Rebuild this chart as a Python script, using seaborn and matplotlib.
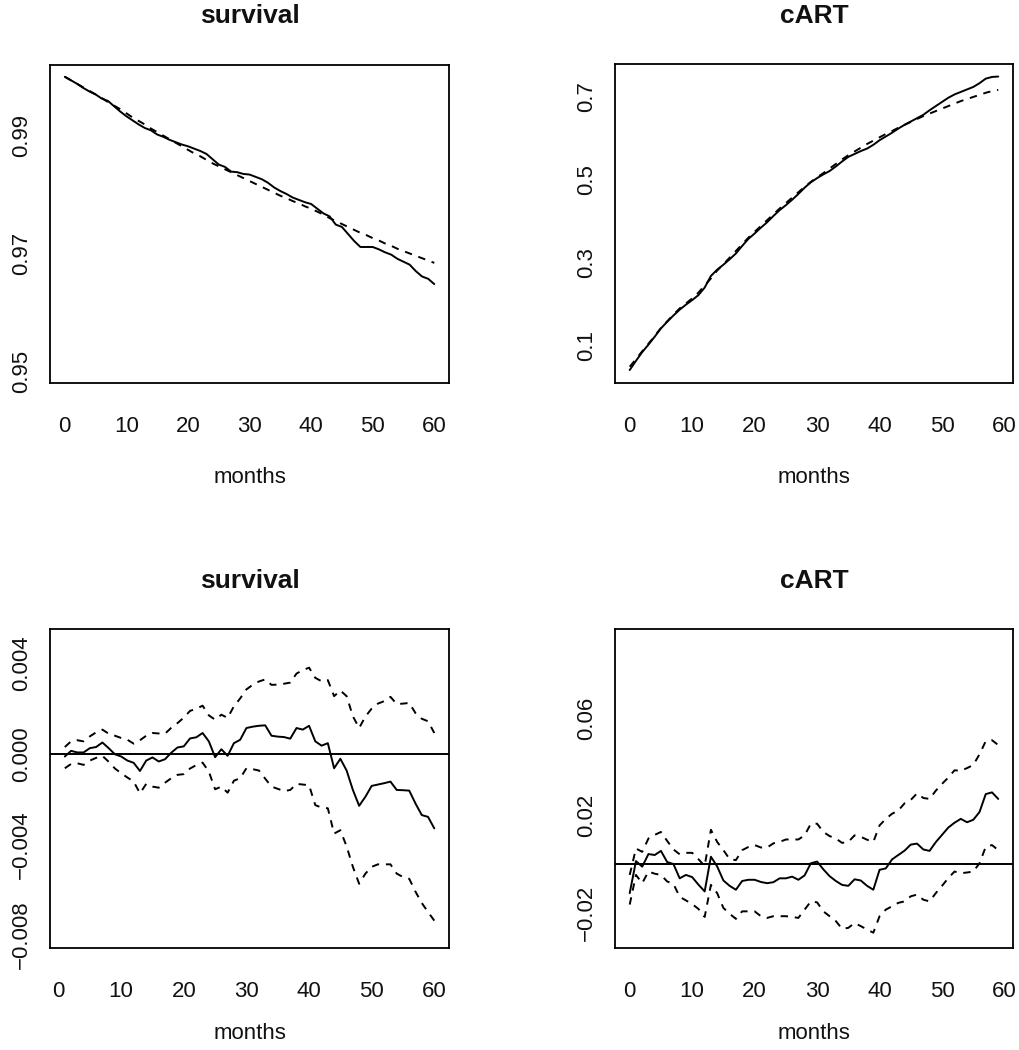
# survival / cART panels: fitted vs observed (top), differences with bands (bottom)
import matplotlib
matplotlib.use("Agg")
import matplotlib.pyplot as plt
import seaborn as sns

# ---------- data ----------
months_surv = list(range(0, 61))
months_cart = list(range(0, 60))
months_diff_surv = list(range(1, 61))
months_diff_cart = list(range(0, 60))

surv_obs = [1.0000, 0.9994, 0.9988, 0.9981, 0.9975, 0.9970, 0.9963, 0.9959, 0.9950, 0.9941,
            0.9933, 0.9926, 0.9919, 0.9913, 0.9909, 0.9902, 0.9898, 0.9893, 0.9889, 0.9885,
            0.9882, 0.9878, 0.9874, 0.9869, 0.9860, 0.9851, 0.9847, 0.9839, 0.9838, 0.9835,
            0.9834, 0.9830, 0.9826, 0.9820, 0.9812, 0.9806, 0.9801, 0.9795, 0.9791, 0.9787,
            0.9784, 0.9776, 0.9768, 0.9763, 0.9749, 0.9745, 0.9733, 0.9721, 0.9711, 0.9711,
            0.9711, 0.9707, 0.9702, 0.9698, 0.9691, 0.9686, 0.9681, 0.9670, 0.9661, 0.9657,
            0.9648]
surv_fit = [1.0000, 0.9994, 0.9988, 0.9982, 0.9976, 0.9970, 0.9964, 0.9957, 0.9951, 0.9945,
            0.9938, 0.9931, 0.9925, 0.9919, 0.9912, 0.9906, 0.9900, 0.9894, 0.9888, 0.9882,
            0.9876, 0.9870, 0.9865, 0.9859, 0.9853, 0.9848, 0.9843, 0.9838, 0.9833, 0.9828,
            0.9823, 0.9818, 0.9813, 0.9808, 0.9803, 0.9798, 0.9794, 0.9789, 0.9785, 0.9780,
            0.9776, 0.9771, 0.9766, 0.9760, 0.9755, 0.9750, 0.9745, 0.9740, 0.9735, 0.9731,
            0.9726, 0.9722, 0.9717, 0.9713, 0.9708, 0.9704, 0.9700, 0.9696, 0.9692, 0.9688,
            0.9684]

cart_obs = [0.042, 0.064, 0.085, 0.103, 0.122, 0.142, 0.158, 0.173, 0.187, 0.199,
            0.210, 0.222, 0.240, 0.268, 0.283, 0.295, 0.308, 0.322, 0.340, 0.357,
            0.370, 0.384, 0.397, 0.412, 0.426, 0.438, 0.451, 0.465, 0.480, 0.493,
            0.503, 0.512, 0.520, 0.531, 0.543, 0.554, 0.561, 0.568, 0.574, 0.583,
            0.594, 0.603, 0.612, 0.622, 0.631, 0.639, 0.647, 0.655, 0.666, 0.676,
            0.686, 0.696, 0.704, 0.710, 0.716, 0.722, 0.731, 0.742, 0.746, 0.747]
cart_fit = [0.050, 0.068, 0.087, 0.105, 0.124, 0.143, 0.159, 0.175, 0.190, 0.202,
            0.214, 0.228, 0.245, 0.262, 0.281, 0.296, 0.312, 0.328, 0.344, 0.360,
            0.374, 0.388, 0.402, 0.416, 0.430, 0.443, 0.456, 0.469, 0.482, 0.494,
            0.505, 0.515, 0.526, 0.537, 0.548, 0.558, 0.567, 0.576, 0.585, 0.593,
            0.601, 0.609, 0.616, 0.624, 0.631, 0.638, 0.645, 0.652, 0.658, 0.664,
            0.670, 0.676, 0.682, 0.688, 0.693, 0.698, 0.703, 0.708, 0.712, 0.715]

surv_diff = [-0.00012, 0.00013, 0.00006, 0.00006, 0.00025, 0.00030, 0.00050, 0.00025, -0.00002, -0.00012,
             -0.00030, -0.00040, -0.00076, -0.00030, -0.00016, -0.00034, -0.00024, 0.00005, 0.00028, 0.00033,
             0.00068, 0.00073, 0.00092, 0.00055, -0.00015, 0.00020, -0.00009, 0.00047, 0.00062, 0.00114,
             0.00120, 0.00124, 0.00126, 0.00080, 0.00076, 0.00074, 0.00067, 0.00114, 0.00107, 0.00124,
             0.00055, 0.00036, 0.00047, -0.00064, -0.00022, -0.00074, -0.00160, -0.00230, -0.00190, -0.00142,
             -0.00136, -0.00130, -0.00123, -0.00160, -0.00161, -0.00163, -0.00220, -0.00271, -0.00279, -0.00330]
surv_upper = [0.00030, 0.00055, 0.00060, 0.00055, 0.00077, 0.00095, 0.00107, 0.00089, 0.00080, 0.00070,
              0.00062, 0.00045, 0.00060, 0.00080, 0.00092, 0.00090, 0.00089, 0.00115, 0.00136, 0.00160,
              0.00190, 0.00199, 0.00213, 0.00170, 0.00151, 0.00173, 0.00159, 0.00210, 0.00245, 0.00285,
              0.00305, 0.00320, 0.00329, 0.00305, 0.00306, 0.00310, 0.00315, 0.00355, 0.00370, 0.00381,
              0.00336, 0.00321, 0.00326, 0.00255, 0.00280, 0.00255, 0.00166, 0.00114, 0.00165, 0.00200,
              0.00222, 0.00233, 0.00252, 0.00220, 0.00222, 0.00225, 0.00180, 0.00155, 0.00144, 0.00092]
surv_lower = [-0.00064, -0.00045, -0.00042, -0.00049, -0.00030, -0.00018, -0.00009, -0.00035, -0.00065, -0.00086,
              -0.00105, -0.00123, -0.00175, -0.00133, -0.00145, -0.00150, -0.00128, -0.00108, -0.00093, -0.00090,
              -0.00065, -0.00050, -0.00039, -0.00079, -0.00157, -0.00145, -0.00172, -0.00119, -0.00108, -0.00064,
              -0.00068, -0.00074, -0.00110, -0.00145, -0.00155, -0.00165, -0.00160, -0.00133, -0.00136, -0.00139,
              -0.00227, -0.00238, -0.00241, -0.00353, -0.00338, -0.00410, -0.00500, -0.00575, -0.00530, -0.00500,
              -0.00489, -0.00489, -0.00489, -0.00530, -0.00545, -0.00553, -0.00610, -0.00660, -0.00700, -0.00738]

cart_diff = [-0.0120, 0.0012, -0.0011, 0.0041, 0.0037, 0.0054, 0.0008, 0.0000, -0.0059, -0.0045,
             -0.0054, -0.0085, -0.0113, 0.0030, -0.0010, -0.0068, -0.0090, -0.0106, -0.0070, -0.0065,
             -0.0065, -0.0074, -0.0079, -0.0075, -0.0059, -0.0059, -0.0052, -0.0065, -0.0047, 0.0003,
             0.0010, -0.0022, -0.0050, -0.0070, -0.0086, -0.0090, -0.0063, -0.0068, -0.0090, -0.0106,
             -0.0024, -0.0018, 0.0019, 0.0037, 0.0055, 0.0080, 0.0084, 0.0060, 0.0054, 0.0090,
             0.0120, 0.0150, 0.0170, 0.0186, 0.0172, 0.0182, 0.0214, 0.0288, 0.0295, 0.0268]
cart_upper = [-0.0045, 0.0064, 0.0050, 0.0105, 0.0120, 0.0132, 0.0095, 0.0060, 0.0040, 0.0046,
              0.0046, 0.0020, -0.0008, 0.0141, 0.0091, 0.0057, 0.0020, 0.0016, 0.0057, 0.0070,
              0.0078, 0.0068, 0.0068, 0.0085, 0.0091, 0.0101, 0.0101, 0.0101, 0.0118, 0.0166,
              0.0166, 0.0132, 0.0115, 0.0105, 0.0087, 0.0091, 0.0118, 0.0112, 0.0100, 0.0091,
              0.0159, 0.0186, 0.0207, 0.0220, 0.0250, 0.0264, 0.0291, 0.0272, 0.0268, 0.0302,
              0.0330, 0.0356, 0.0386, 0.0384, 0.0395, 0.0408, 0.0452, 0.0506, 0.0510, 0.0490]
cart_lower = [-0.0167, -0.0045, -0.0079, -0.0031, -0.0040, -0.0045, -0.0072, -0.0082, -0.0135, -0.0150,
              -0.0165, -0.0185, -0.0218, -0.0086, -0.0120, -0.0181, -0.0205, -0.0226, -0.0195, -0.0195,
              -0.0195, -0.0215, -0.0222, -0.0215, -0.0215, -0.0215, -0.0218, -0.0222, -0.0188, -0.0154,
              -0.0158, -0.0195, -0.0215, -0.0235, -0.0267, -0.0263, -0.0243, -0.0256, -0.0270, -0.0283,
              -0.0215, -0.0188, -0.0174, -0.0160, -0.0154, -0.0133, -0.0126, -0.0147, -0.0154, -0.0120,
              -0.0090, -0.0058, -0.0031, -0.0038, -0.0035, -0.0031, 0.0003, 0.0071, 0.0078, 0.0057]

# ---------- style ----------
sns.set_style("white")
plt.rcParams["font.family"] = ["Liberation Sans", "DejaVu Sans"]

LW = 1.4
DASH = (0, (3.8, 3.5))

fig = plt.figure(figsize=(10.19, 10.5), dpi=100)

ax_tl = fig.add_axes([0.0491, 0.6352, 0.3916, 0.3029])
ax_tr = fig.add_axes([0.6035, 0.6357, 0.3906, 0.3029])
ax_bl = fig.add_axes([0.0491, 0.0976, 0.3916, 0.3029])
ax_br = fig.add_axes([0.6035, 0.0976, 0.3906, 0.3029])


def style_axis(ax, title, xlim, ylim, yticks, ylabels, label_y=-0.265):
    ax.set_xlim(*xlim)
    ax.set_ylim(*ylim)
    ax.set_xticks([0, 10, 20, 30, 40, 50, 60])
    ax.set_xticklabels(["0", "10", "20", "30", "40", "50", "60"])
    ax.set_yticks(yticks)
    ax.set_yticklabels(ylabels, rotation=90, va="center")
    ax.tick_params(axis="both", direction="out", length=10, width=1.3,
                   color="black", labelsize=16, labelcolor="#111111")
    ax.tick_params(axis="x", pad=14)
    ax.tick_params(axis="y", pad=3)
    for sp in ax.spines.values():
        sp.set_visible(True)
        sp.set_color("black")
        sp.set_linewidth(1.3)
    ax.set_title(title, fontsize=19, fontweight="bold", pad=30, color="#111111")
    ax.set_xlabel("months", fontsize=16, color="#111111")
    ax.xaxis.set_label_coords(0.5, label_y)
    ax.set_ylabel("")


# top left: survival
sns.lineplot(x=months_surv, y=surv_obs, ax=ax_tl, color="black", linewidth=LW)
sns.lineplot(x=months_surv, y=surv_fit, ax=ax_tl, color="black", linewidth=LW, linestyle=DASH)
style_axis(ax_tl, "survival", (-2.4, 62.4), (0.948, 1.002),
           [0.95, 0.96, 0.97, 0.98, 0.99, 1.00],
           ["0.95", "", "0.97", "", "0.99", ""])

# top right: cART
sns.lineplot(x=months_cart, y=cart_obs, ax=ax_tr, color="black", linewidth=LW)
sns.lineplot(x=months_cart, y=cart_fit, ax=ax_tr, color="black", linewidth=LW, linestyle=DASH)
style_axis(ax_tr, "cART", (-2.36, 61.36), (0.012, 0.776),
           [0.1, 0.2, 0.3, 0.4, 0.5, 0.6, 0.7],
           ["0.1", "", "0.3", "", "0.5", "", "0.7"])

# bottom left: survival differences
sns.lineplot(x=months_diff_surv, y=surv_diff, ax=ax_bl, color="black", linewidth=LW)
sns.lineplot(x=months_diff_surv, y=surv_upper, ax=ax_bl, color="black", linewidth=LW, linestyle=DASH)
sns.lineplot(x=months_diff_surv, y=surv_lower, ax=ax_bl, color="black", linewidth=LW, linestyle=DASH)
ax_bl.axhline(0, color="black", linewidth=LW)
style_axis(ax_bl, "survival", (-1.36, 62.36), (-0.00857, 0.0055),
           [-0.008, -0.006, -0.004, -0.002, 0.0, 0.002, 0.004],
           ["\u22120.008", "", "\u22120.004", "", "0.000", "", "0.004"], label_y=-0.238)

# bottom right: cART differences
sns.lineplot(x=months_diff_cart, y=cart_diff, ax=ax_br, color="black", linewidth=LW)
sns.lineplot(x=months_diff_cart, y=cart_upper, ax=ax_br, color="black", linewidth=LW, linestyle=DASH)
sns.lineplot(x=months_diff_cart, y=cart_lower, ax=ax_br, color="black", linewidth=LW, linestyle=DASH)
ax_br.axhline(0, color="black", linewidth=LW)
style_axis(ax_br, "cART", (-2.36, 61.36), (-0.0344, 0.0966),
           [-0.02, 0.0, 0.02, 0.04, 0.06, 0.08],
           ["\u22120.02", "", "0.02", "", "0.06", ""], label_y=-0.238)

fig.savefig("out.png", dpi=100, facecolor="white")
